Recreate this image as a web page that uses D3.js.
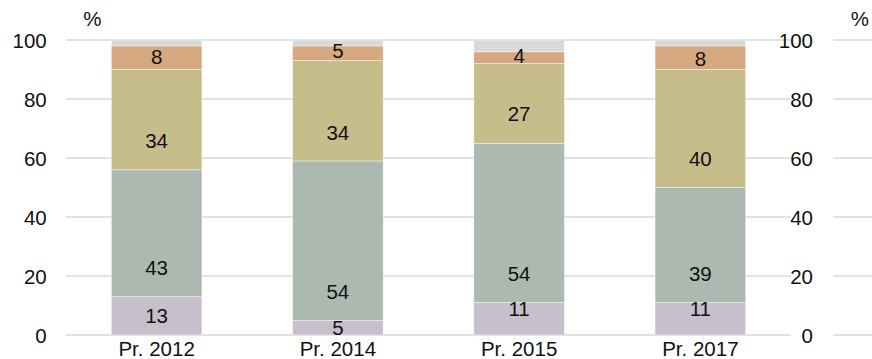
<!DOCTYPE html>
<html>
<head>
<meta charset="utf-8">
<script src="https://cdn.jsdelivr.net/npm/d3@7"></script>
<style>
  html, body { margin: 0; padding: 0; background: #fff; }
  svg { display: block; font-family: "Liberation Sans", Arial, sans-serif; }
</style>
</head>
<body>
<svg id="chart" width="872" height="359"></svg>
<script>
// Survey years
const categories = ["Pr. 2012", "Pr. 2014", "Pr. 2015", "Pr. 2017"];

// Shares per answer group, in percent (bottom to top)
const seriesA = [13, 5, 11, 11];
const seriesB = [43, 54, 54, 39];
const seriesC = [34, 34, 27, 40];
const seriesD = [8, 5, 4, 8];
// Remainder up to 100 %
const seriesRest = categories.map((_, i) => 100 - seriesA[i] - seriesB[i] - seriesC[i] - seriesD[i]);

const yTicks = [0, 20, 40, 60, 80, 100];

// Where each value label sits inside its segment, in percent units
const labelAt = [
  [6.4, 2.4, 8.8, 8.8],
  [22.9, 14.6, 20.7, 20.7],
  [65.8, 68.7, 75.0, 59.7],
  [94.3, 96.3, 94.7, 93.8]
];

const colors = ["#c7bfcc", "#acb9b1", "#c6bd8b", "#d5a880", "#d9d9d9"];

const svg = d3.select("#chart");
const fs = 20.5;
const plotLeft = 66, plotRight = 791, plotTop = 40, plotBottom = 335;

const x = d3.scaleBand().domain(categories).range([plotLeft, plotRight]).paddingInner(0.5).paddingOuter(0.25);
const y = d3.scaleLinear().domain([0, 100]).range([plotBottom, plotTop]);

// Gridlines (main plot and the short right-hand stubs)
const grid = svg.append("g");
grid.selectAll("line.main").data(yTicks).join("line")
  .attr("class", "main")
  .attr("x1", plotLeft).attr("x2", plotRight)
  .attr("y1", d => y(d)).attr("y2", d => y(d))
  .attr("stroke", "#d9d9d9").attr("stroke-width", 1.3);
grid.selectAll("line.stub").data(yTicks).join("line")
  .attr("class", "stub")
  .attr("x1", 833).attr("x2", 872)
  .attr("y1", d => y(d)).attr("y2", d => y(d))
  .attr("stroke", "#d9d9d9").attr("stroke-width", 1.3);

// Stacked bars
const rows = categories.map((c, i) => ({
  cat: c, a: seriesA[i], b: seriesB[i], c: seriesC[i], d: seriesD[i], r: seriesRest[i]
}));
const keys = ["a", "b", "c", "d", "r"];
const stacked = d3.stack().keys(keys)(rows);

svg.append("g").selectAll("g").data(stacked).join("g")
  .attr("fill", (d, i) => colors[i])
  .selectAll("rect").data(d => d).join("rect")
  .attr("x", d => x(d.data.cat))
  .attr("width", x.bandwidth())
  .attr("y", d => y(d[1]))
  .attr("height", d => y(d[0]) - y(d[1]))
  .attr("stroke", "#ffffff").attr("stroke-opacity", 0.6).attr("stroke-width", 0.7);

// Value labels
const labelSeries = [seriesA, seriesB, seriesC, seriesD];
const labelG = svg.append("g").attr("font-size", fs).attr("fill", "#111").attr("text-anchor", "middle");
labelSeries.forEach((vals, s) => {
  labelG.selectAll(null).data(vals).join("text")
    .attr("x", (d, i) => x(categories[i]) + x.bandwidth() / 2)
    .attr("y", (d, i) => y(labelAt[s][i]) + fs * 0.358)
    .text(d => d);
});

// Left axis
const yAxisL = d3.axisLeft(y).tickValues(yTicks).tickSize(0).tickPadding(0);
const gL = svg.append("g").attr("transform", "translate(46.7,0)").call(yAxisL);
gL.select(".domain").remove();
gL.selectAll("text").attr("font-size", fs).attr("fill", "#111")
  .attr("font-family", "Liberation Sans, Arial, sans-serif")
  .attr("dy", null).attr("y", fs * 0.358);

// Right axis
const gR = svg.append("g").attr("transform", "translate(813,0)").call(yAxisL);
gR.select(".domain").remove();
gR.selectAll("text").attr("font-size", fs).attr("fill", "#111")
  .attr("font-family", "Liberation Sans, Arial, sans-serif")
  .attr("dy", null).attr("y", fs * 0.358);

// Category axis
const xAxis = d3.axisBottom(x).tickSize(0).tickPadding(0);
const gX = svg.append("g").attr("transform", `translate(0,${plotBottom})`).call(xAxis);
gX.select(".domain").remove();
gX.selectAll("text").attr("font-size", fs).attr("fill", "#111")
  .attr("font-family", "Liberation Sans, Arial, sans-serif")
  .attr("dy", null).attr("y", 21.4);

// Unit markers
svg.append("text").attr("x", 83.3).attr("y", 26).attr("font-size", fs).attr("fill", "#111").text("%");
svg.append("text").attr("x", 850.7).attr("y", 25.5).attr("font-size", fs).attr("fill", "#111").text("%");
</script>
</body>
</html>
